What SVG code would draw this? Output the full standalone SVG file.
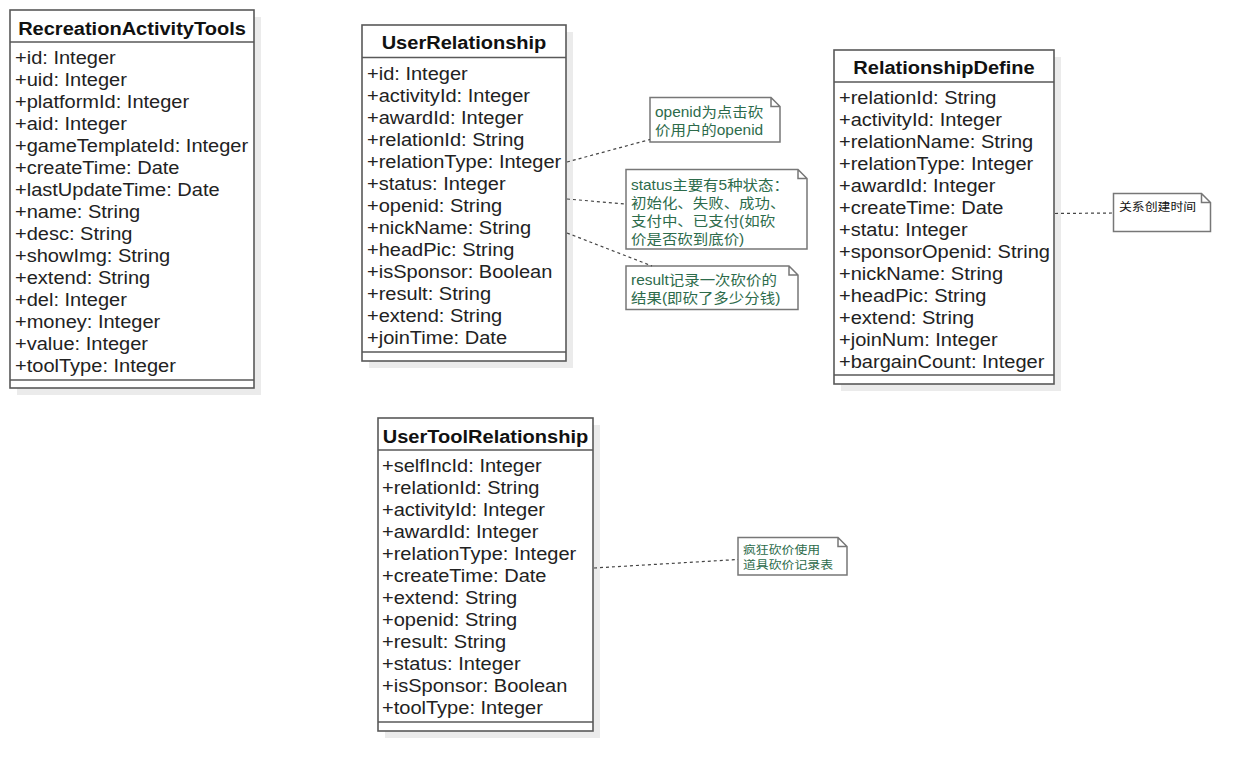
<svg xmlns="http://www.w3.org/2000/svg" width="1251" height="771" viewBox="0 0 1251 771">
<style>
.shadow{fill:#ebebeb;stroke:none}
.box{fill:#fff;stroke:#595959;stroke-width:1.6}
.div{stroke:#595959;stroke-width:1.6}
.title{font-family:"Liberation Sans",Arial,sans-serif;font-size:17.5px;font-weight:bold;fill:#111;text-anchor:middle}
.attr{font-family:"Liberation Sans",Arial,sans-serif;font-size:17.5px;fill:#222}
.note{fill:#fff;stroke:#777;stroke-width:1.5}
.ntext{font-family:"Liberation Sans","Noto Sans CJK SC",sans-serif;font-size:13.8px;fill:#2d6b4b}
.stext{font-family:"Noto Sans CJK SC",sans-serif;font-size:11px}
.conn{fill:none;stroke:#444;stroke-width:1.2;stroke-dasharray:3 3}
</style>
<rect width="1251" height="771" fill="#fff"/>

<g id="RecreationActivityTools">
<rect class="shadow" x="17" y="17" width="244" height="378"/>
<rect class="box" x="10" y="10" width="244" height="378"/>
<line class="div" x1="10" y1="42" x2="254" y2="42"/>
<line class="div" x1="10" y1="380" x2="254" y2="380"/>
<g transform="translate(132 0) scale(1.145 1)"><text class="title" x="0" y="35">RecreationActivityTools</text></g>
<g transform="translate(15 0) scale(1.145 1)">
<text class="attr" x="0" y="64">+id: Integer</text>
<text class="attr" x="0" y="86">+uid: Integer</text>
<text class="attr" x="0" y="108">+platformId: Integer</text>
<text class="attr" x="0" y="130">+aid: Integer</text>
<text class="attr" x="0" y="152">+gameTemplateId: Integer</text>
<text class="attr" x="0" y="174">+createTime: Date</text>
<text class="attr" x="0" y="196">+lastUpdateTime: Date</text>
<text class="attr" x="0" y="218">+name: String</text>
<text class="attr" x="0" y="240">+desc: String</text>
<text class="attr" x="0" y="262">+showImg: String</text>
<text class="attr" x="0" y="284">+extend: String</text>
<text class="attr" x="0" y="306">+del: Integer</text>
<text class="attr" x="0" y="328">+money: Integer</text>
<text class="attr" x="0" y="350">+value: Integer</text>
<text class="attr" x="0" y="372">+toolType: Integer</text>
</g>
</g>

<g id="UserRelationship">
<rect class="shadow" x="369" y="32" width="204" height="336"/>
<rect class="box" x="362" y="25" width="204" height="336"/>
<line class="div" x1="362" y1="57.5" x2="566" y2="57.5"/>
<line class="div" x1="362" y1="352" x2="566" y2="352"/>
<g transform="translate(464 0) scale(1.145 1)"><text class="title" x="0" y="49.5">UserRelationship</text></g>
<g transform="translate(367 0) scale(1.145 1)">
<text class="attr" x="0" y="80">+id: Integer</text>
<text class="attr" x="0" y="102">+activityId: Integer</text>
<text class="attr" x="0" y="124">+awardId: Integer</text>
<text class="attr" x="0" y="146">+relationId: String</text>
<text class="attr" x="0" y="168">+relationType: Integer</text>
<text class="attr" x="0" y="190">+status: Integer</text>
<text class="attr" x="0" y="212">+openid: String</text>
<text class="attr" x="0" y="234">+nickName: String</text>
<text class="attr" x="0" y="256">+headPic: String</text>
<text class="attr" x="0" y="278">+isSponsor: Boolean</text>
<text class="attr" x="0" y="300">+result: String</text>
<text class="attr" x="0" y="322">+extend: String</text>
<text class="attr" x="0" y="344">+joinTime: Date</text>
</g>
</g>

<g id="RelationshipDefine">
<rect class="shadow" x="841" y="57" width="220" height="334"/>
<rect class="box" x="834" y="50" width="220" height="334"/>
<line class="div" x1="834" y1="82" x2="1054" y2="82"/>
<line class="div" x1="834" y1="375" x2="1054" y2="375"/>
<g transform="translate(944 0) scale(1.145 1)"><text class="title" x="0" y="74">RelationshipDefine</text></g>
<g transform="translate(839 0) scale(1.145 1)">
<text class="attr" x="0" y="104">+relationId: String</text>
<text class="attr" x="0" y="126">+activityId: Integer</text>
<text class="attr" x="0" y="148">+relationName: String</text>
<text class="attr" x="0" y="170">+relationType: Integer</text>
<text class="attr" x="0" y="192">+awardId: Integer</text>
<text class="attr" x="0" y="214">+createTime: Date</text>
<text class="attr" x="0" y="236">+statu: Integer</text>
<text class="attr" x="0" y="258">+sponsorOpenid: String</text>
<text class="attr" x="0" y="280">+nickName: String</text>
<text class="attr" x="0" y="302">+headPic: String</text>
<text class="attr" x="0" y="324">+extend: String</text>
<text class="attr" x="0" y="346">+joinNum: Integer</text>
<text class="attr" x="0" y="368">+bargainCount: Integer</text>
</g>
</g>

<g id="UserToolRelationship">
<rect class="shadow" x="385" y="425" width="215" height="313"/>
<rect class="box" x="378" y="418" width="215" height="313"/>
<line class="div" x1="378" y1="450" x2="593" y2="450"/>
<line class="div" x1="378" y1="722" x2="593" y2="722"/>
<g transform="translate(485.5 0) scale(1.145 1)"><text class="title" x="0" y="443">UserToolRelationship</text></g>
<g transform="translate(382 0) scale(1.145 1)">
<text class="attr" x="0" y="472">+selfIncId: Integer</text>
<text class="attr" x="0" y="494">+relationId: String</text>
<text class="attr" x="0" y="516">+activityId: Integer</text>
<text class="attr" x="0" y="538">+awardId: Integer</text>
<text class="attr" x="0" y="560">+relationType: Integer</text>
<text class="attr" x="0" y="582">+createTime: Date</text>
<text class="attr" x="0" y="604">+extend: String</text>
<text class="attr" x="0" y="626">+openid: String</text>
<text class="attr" x="0" y="648">+result: String</text>
<text class="attr" x="0" y="670">+status: Integer</text>
<text class="attr" x="0" y="692">+isSponsor: Boolean</text>
<text class="attr" x="0" y="714">+toolType: Integer</text>
</g>
</g>

<g id="note-openid">
<path class="note" d="M650 97.5 H771 L780 106.5 V142 H650 Z M771 97.5 V106.5 H780"/>
<g transform="translate(655 0) scale(1.12 1)">
<text class="ntext" x="0" y="117">openid为点击砍</text>
<text class="ntext" x="0" y="135">价用户的openid</text>
</g>
</g>

<g id="note-status">
<path class="note" d="M626 169.5 H798 L807 178.5 V249 H626 Z M798 169.5 V178.5 H807"/>
<g transform="translate(631 0) scale(1.12 1)">
<text class="ntext" x="0" y="190">status主要有5种状态：</text>
<text class="ntext" x="0" y="208.5">初始化、失败、成功、</text>
<text class="ntext" x="0" y="226.5">支付中、已支付(如砍</text>
<text class="ntext" x="0" y="244.5">价是否砍到底价)</text>
</g>
</g>

<g id="note-result">
<path class="note" d="M626 266 H789 L798 275 V309.5 H626 Z M789 266 V275 H798"/>
<g transform="translate(631 0) scale(1.12 1)">
<text class="ntext" x="0" y="285">result记录一次砍价的</text>
<text class="ntext" x="0" y="303.5">结果(即砍了多少分钱)</text>
</g>
</g>

<g id="note-createTime">
<path class="note" d="M1113.5 193.5 H1201.5 L1210.5 202.5 V231.5 H1113.5 Z M1201.5 193.5 V202.5 H1210.5"/>
<g transform="translate(1119 0) scale(1.17 1)">
<text class="stext" x="0" y="211.5" fill="#111">关系创建时间</text>
</g>
</g>

<g id="note-tool">
<path class="note" d="M738 537.5 H838 L847 546.5 V575 H738 Z M838 537.5 V546.5 H847"/>
<g transform="translate(743 0) scale(1.17 1)">
<text class="stext" x="0" y="554.5" fill="#2d6b4b">疯狂砍价使用</text>
<text class="stext" x="0" y="569.5" fill="#2d6b4b">道具砍价记录表</text>
</g>
</g>

<g id="connectors">
<line class="conn" x1="567" y1="162" x2="650" y2="139.5"/>
<line class="conn" x1="567" y1="199" x2="626" y2="204"/>
<line class="conn" x1="567" y1="233" x2="652" y2="266"/>
<line class="conn" x1="1055" y1="213.5" x2="1113.5" y2="213"/>
<line class="conn" x1="594" y1="568" x2="738" y2="559.5"/>
</g>
</svg>
